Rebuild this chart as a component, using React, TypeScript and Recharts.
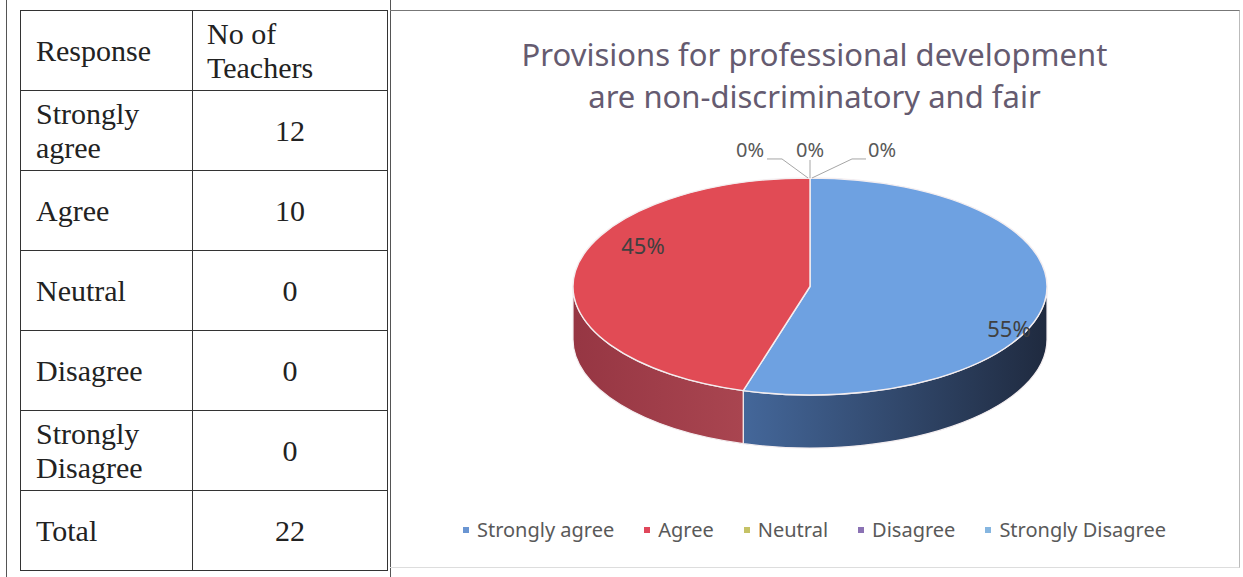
import React from 'react';
import { PieChart, Pie, Cell, Legend } from 'recharts';

const RESPONSES = ['Strongly agree', 'Agree', 'Neutral', 'Disagree', 'Strongly Disagree'];
const TEACHERS = [12, 10, 0, 0, 0];
const TOTAL_LABEL = 'Total';
const TOTAL = 22;
const HEADER_RESPONSE = 'Response';
const HEADER_COUNT = ['No of', 'Teachers'];
const TITLE_LINES = ['Provisions for professional development', 'are non-discriminatory and fair'];

const TOP_COLORS = ['#6ea1e1', '#e14b55', '#9bbb59', '#8064a2', '#4bacc6'];
const LEGEND_COLORS = ['#6a95d2', '#e0475b', '#c5c266', '#8b72b4', '#86b6e0'];
const SIDE_GRADS = [
  ['#44679a', '#1f2a3f'],
  ['#963643', '#a94550'],
  ['#6f8a3c', '#5a7030'],
  ['#5a4676', '#4a3862'],
  ['#357a8d', '#2a6070'],
];

const pieData = RESPONSES.map((name, i) => ({ name, value: TEACHERS[i] }));

const CHART_W = 849;
const CHART_H = 556;
const CX = 420;
const CY = 275.5;
const RX = 237;
const RY_RATIO = 0.458;
const DEPTH = 53;
const RAD = Math.PI / 180;

const pt = (cx: number, cy: number, rx: number, ry: number, a: number) => ({
  x: cx + rx * Math.cos(a * RAD),
  y: cy - ry * Math.sin(a * RAD),
});

const TopShape = (props: any) => {
  const { cx, cy, outerRadius, startAngle, endAngle, fill } = props;
  if (Math.abs(startAngle - endAngle) < 0.01) return <g />;
  const rx = outerRadius;
  const ry = outerRadius * RY_RATIO;
  const s = pt(cx, cy, rx, ry, startAngle);
  const e = pt(cx, cy, rx, ry, endAngle);
  const large = Math.abs(startAngle - endAngle) > 180 ? 1 : 0;
  const sweep = startAngle > endAngle ? 1 : 0;
  const d = `M${cx},${cy} L${s.x},${s.y} A${rx},${ry} 0 ${large} ${sweep} ${e.x},${e.y} Z`;
  return <path d={d} fill={fill} stroke="#f4eef0" strokeWidth={1.4} strokeLinejoin="round" />;
};

const SideShape = (props: any) => {
  const { cx, cy, outerRadius, startAngle, endAngle, index } = props;
  if (Math.abs(startAngle - endAngle) < 0.01) return <g />;
  const rx = outerRadius;
  const ry = outerRadius * RY_RATIO;
  const lo = Math.min(startAngle, endAngle);
  const hi = Math.max(startAngle, endAngle);
  const parts: React.ReactNode[] = [];
  for (let k = -2; k <= 1; k++) {
    const a0 = Math.max(lo, -180 + 360 * k);
    const a1 = Math.min(hi, 360 * k);
    if (a1 - a0 > 0.01) {
      const p0 = pt(cx, cy, rx, ry, a0);
      const p1 = pt(cx, cy, rx, ry, a1);
      const large = a1 - a0 > 180 ? 1 : 0;
      const d =
        `M${p0.x},${p0.y} A${rx},${ry} 0 ${large} 0 ${p1.x},${p1.y} ` +
        `L${p1.x},${p1.y + DEPTH} A${rx},${ry} 0 ${large} 1 ${p0.x},${p0.y + DEPTH} Z`;
      parts.push(
        <path key={k} d={d} fill={`url(#side${index})`} stroke="#f4eef0" strokeWidth={1.2} />
      );
    }
  }
  return <g>{parts}</g>;
};

const renderLabel = (props: any) => {
  const { cx, cy, midAngle, outerRadius, percent, index } = props;
  const rx = outerRadius;
  const ry = outerRadius * RY_RATIO;
  const txt = `${Math.round(percent * 100)}%`;
  if (TEACHERS[index] === 0) {
    let k = 0;
    for (let i = 0; i < index; i++) if (TEACHERS[i] === 0) k++;
    const dx = k === 0 ? -60 : k === 1 ? 0 : 72;
    const topX = cx;
    const topY = cy - ry;
    const lx = topX + dx;
    let line = '';
    if (dx < 0) line = `M${lx + 17},${topY - 19} L${lx + 32},${topY - 19} L${topX - 2},${topY}`;
    else if (dx > 0) line = `M${lx - 16},${topY - 19} L${lx - 30},${topY - 19} L${topX + 2},${topY}`;
    else line = `M${topX},${topY - 18} L${topX},${topY}`;
    return (
      <g key={`l${index}`}>
        <path d={line} stroke="#a6a6a6" strokeWidth={1} fill="none" />
        <text x={lx} y={topY - 21} textAnchor="middle" fill="#595959" fontSize={20}
          fontFamily="'Noto Sans', sans-serif">{txt}</text>
      </g>
    );
  }
  const c = Math.cos(midAngle * RAD);
  const s = Math.sin(midAngle * RAD);
  const x = cx + 16 + rx * 0.78 * c;
  const y = cy - ry * 0.78 * s + 30 * c;
  return (
    <text key={`l${index}`} x={x} y={y} textAnchor="middle" dominantBaseline="central"
      fill="#404040" fontSize={22} fontFamily="'Noto Sans', sans-serif">{txt}</text>
  );
};

const renderLegend = () => {
  return (
    <div style={{ display: 'flex', justifyContent: 'center', alignItems: 'center',
      fontFamily: "'Noto Sans', sans-serif", fontSize: 20, color: '#595959' }}>
      {RESPONSES.map((v: string, i: number) => (
        <div key={v} style={{ display: 'flex', alignItems: 'center', marginRight: i < RESPONSES.length - 1 ? 30 : 0 }}>
          <span style={{ width: 6, height: 6, background: LEGEND_COLORS[i], marginRight: 8, display: 'inline-block' }} />
          <span>{v}</span>
        </div>
      ))}
    </div>
  );
};

const cellStyle: React.CSSProperties = {
  border: '1.5px solid #333',
  padding: '0 0 0 15px',
  height: 80,
  boxSizing: 'border-box',
  verticalAlign: 'middle',
};
const numStyle: React.CSSProperties = { ...cellStyle, padding: 0, textAlign: 'center' };

export default function App() {
  return (
    <div style={{ position: 'absolute', left: 0, top: 0, width: 1243, height: 577, background: '#fff', overflow: 'hidden' }}>
      <div style={{ position: 'absolute', left: 6, top: 0, width: 1, height: 577, background: '#555' }} />
      <div style={{ position: 'absolute', left: 390, top: 0, width: 1, height: 577, background: '#555' }} />
      <table style={{ position: 'absolute', left: 20, top: 10, width: 367, borderCollapse: 'collapse',
        fontFamily: "'Liberation Serif', 'Times New Roman', serif", fontSize: 30, lineHeight: '34px', color: '#222',
        tableLayout: 'fixed' }}>
        <colgroup>
          <col style={{ width: 172 }} />
          <col style={{ width: 195 }} />
        </colgroup>
        <tbody>
          <tr>
            <td style={cellStyle}>{HEADER_RESPONSE}</td>
            <td style={{ ...cellStyle, paddingLeft: 14 }}>{HEADER_COUNT[0]}<br />{HEADER_COUNT[1]}</td>
          </tr>
          {RESPONSES.map((r, i) => {
            const parts = r.split(' ');
            return (
              <tr key={r}>
                <td style={cellStyle}>
                  {parts.length > 1 ? (<>{parts[0]}<br />{parts.slice(1).join(' ')}</>) : r}
                </td>
                <td style={numStyle}>{TEACHERS[i]}</td>
              </tr>
            );
          })}
          <tr>
            <td style={cellStyle}>{TOTAL_LABEL}</td>
            <td style={numStyle}>{TOTAL}</td>
          </tr>
        </tbody>
      </table>

      <div style={{ position: 'absolute', left: 390, top: 10, width: CHART_W, height: CHART_H,
        borderTop: '1.5px solid #777', borderRight: '1px solid #bbb', borderBottom: '1px solid #ddd' }}>
        <div style={{ position: 'absolute', left: 0, top: 22, width: CHART_W, textAlign: 'center',
          fontFamily: "'Noto Sans', sans-serif", fontSize: 31, lineHeight: '42px', color: '#655b70' }}>
          {TITLE_LINES[0]}<br />{TITLE_LINES[1]}
        </div>
        <PieChart width={CHART_W} height={CHART_H} margin={{ top: 0, right: 0, bottom: 0, left: 0 }}>
          <defs>
            {SIDE_GRADS.map((g, i) => (
              <linearGradient key={i} id={`side${i}`} x1="0" y1="0" x2="1" y2="0">
                <stop offset="0%" stopColor={g[0]} />
                <stop offset="100%" stopColor={g[1]} />
              </linearGradient>
            ))}
          </defs>
          <Pie data={pieData} dataKey="value" nameKey="name" cx={CX} cy={CY} outerRadius={RX}
            startAngle={90} endAngle={-270} isAnimationActive={false} legendType="none"
            shape={SideShape} activeShape={SideShape} inactiveShape={SideShape}
            label={false} labelLine={false} stroke="none">
            {pieData.map((d, i) => <Cell key={i} fill={TOP_COLORS[i]} />)}
          </Pie>
          <Pie data={pieData} dataKey="value" nameKey="name" cx={CX} cy={CY} outerRadius={RX}
            startAngle={90} endAngle={-270} isAnimationActive={false} legendType="square"
            shape={TopShape} activeShape={TopShape} inactiveShape={TopShape}
            label={renderLabel} labelLine={false}>
            {pieData.map((d, i) => <Cell key={i} fill={TOP_COLORS[i]} />)}
          </Pie>
          <Legend content={renderLegend} verticalAlign="bottom"
            wrapperStyle={{ position: 'absolute', left: 0, top: 505, bottom: 'auto', width: CHART_W }} />
        </PieChart>
      </div>
    </div>
  );
}
